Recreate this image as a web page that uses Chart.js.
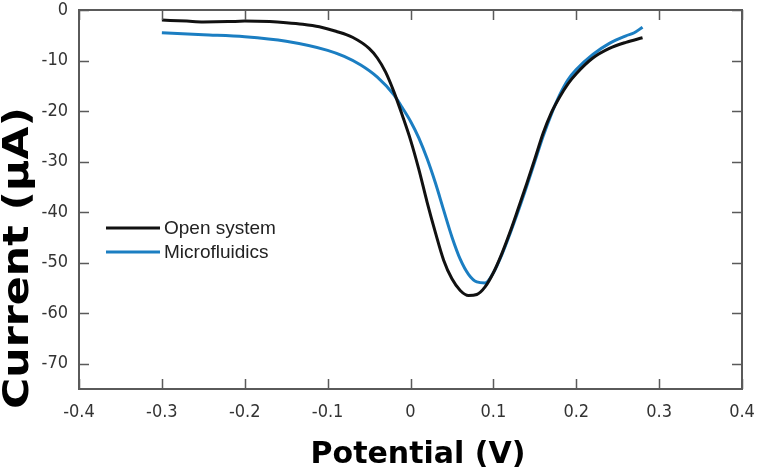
<!DOCTYPE html>
<html>
<head>
<meta charset="utf-8">
<script src="https://cdn.jsdelivr.net/npm/chart.js@4.4.1/dist/chart.umd.min.js"></script>
<style>
  html, body { margin: 0; padding: 0; background: #fff; }
  #chart { display: block; }
</style>
</head>
<body>
<canvas id="chart" width="760" height="476"></canvas>
<script>
// Square-wave voltammograms
const potentialOpen = [-0.30, -0.27, -0.25, -0.22, -0.20, -0.17, -0.15, -0.13, -0.11, -0.09,
  -0.07, -0.05, -0.04, -0.03, -0.02, -0.01, 0.00, 0.01, 0.02, 0.03, 0.04, 0.05, 0.06, 0.07,
  0.08, 0.09, 0.10, 0.11, 0.12, 0.13, 0.14, 0.15, 0.16, 0.17, 0.18, 0.19, 0.20, 0.22, 0.24,
  0.26, 0.28];
const currentOpen = [-2.0, -2.2, -2.35, -2.3, -2.2, -2.3, -2.5, -2.8, -3.3, -4.2,
  -5.4, -7.6, -9.5, -12.3, -16.2, -20.8, -25.7, -31.5, -38.0, -44.0, -49.5, -53.2, -55.5, -56.5,
  -56.3, -54.8, -52.0, -48.3, -44.0, -39.3, -34.5, -29.5, -24.4, -20.3, -17.2, -14.6, -12.6, -9.5, -7.6,
  -6.4, -5.5];

const potentialMicro = [-0.30, -0.25, -0.20, -0.15, -0.10, -0.08, -0.06, -0.04, -0.02, -0.01,
  0.00, 0.01, 0.02, 0.03, 0.04, 0.05, 0.06, 0.07, 0.08, 0.09, 0.10, 0.11, 0.12, 0.13, 0.14,
  0.15, 0.16, 0.17, 0.18, 0.19, 0.20, 0.22, 0.24, 0.26, 0.27, 0.28];
const currentMicro = [-4.5, -4.9, -5.3, -6.2, -8.0, -9.2, -10.9, -13.3, -16.8, -19.3,
  -22.0, -25.3, -29.4, -34.2, -39.6, -44.9, -49.3, -52.3, -53.8, -54.0, -52.0, -48.5, -44.3, -39.8, -35.0,
  -30.0, -25.0, -20.6, -16.8, -13.8, -11.8, -8.8, -6.6, -5.1, -4.5, -3.4];

const seriesNames = ['Open system', 'Microfluidics'];
const seriesColors = ['#111111', '#1b7ec2'];

const xTicks = [-0.4, -0.3, -0.2, -0.1, 0, 0.1, 0.2, 0.3, 0.4];
const yTicks = [0, -10, -20, -30, -40, -50, -60, -70];

const toPoints = (xs, ys) => xs.map((x, i) => ({ x, y: ys[i] }));

const AXIS_COLOR = '#5a5a5a';
const tickFont = { family: "'DejaVu Sans Condensed', 'DejaVu Sans', sans-serif", size: 18 };

// frame, inward ticks, axis titles and legend
const decor = {
  id: 'decor',
  afterDraw(chart) {
    const { ctx, chartArea: a, scales } = chart;
    ctx.save();
    ctx.strokeStyle = AXIS_COLOR;
    ctx.lineWidth = 2;
    ctx.strokeRect(a.left, a.top, a.right - a.left, a.bottom - a.top);

    ctx.lineWidth = 1.5;
    ctx.beginPath();
    scales.x.ticks.forEach(t => {
      const px = Math.round(scales.x.getPixelForValue(t.value)) + 0.5;
      ctx.moveTo(px, a.bottom); ctx.lineTo(px, a.bottom - 10);
      ctx.moveTo(px, a.top); ctx.lineTo(px, a.top + 10);
    });
    scales.y.ticks.forEach(t => {
      const py = Math.round(scales.y.getPixelForValue(t.value)) + 0.5;
      ctx.moveTo(a.left, py); ctx.lineTo(a.left + 10, py);
      ctx.moveTo(a.right, py); ctx.lineTo(a.right - 10, py);
    });
    ctx.stroke();

    // axis titles
    ctx.fillStyle = '#000';
    ctx.textAlign = 'center';
    ctx.textBaseline = 'middle';
    ctx.font = "bold 30px 'DejaVu Sans', sans-serif";
    ctx.fillText('Potential (V)', 418, 455);
    ctx.save();
    ctx.translate(19, 258);
    ctx.rotate(-Math.PI / 2);
    ctx.scale(1.22, 1);
    ctx.font = "bold 35px 'DejaVu Sans', sans-serif";
    ctx.fillText('Current (µA)', 0, 0);
    ctx.restore();

    // legend
    ctx.font = "19px 'Liberation Sans', Arial, sans-serif";
    ctx.textAlign = 'left';
    chart.data.datasets.forEach((ds, i) => {
      const y = 228 + i * 24;
      ctx.strokeStyle = ds.borderColor;
      ctx.lineWidth = 3;
      ctx.beginPath();
      ctx.moveTo(106, y); ctx.lineTo(160, y);
      ctx.stroke();
      ctx.fillStyle = '#222';
      ctx.fillText(ds.label, 164, y + 1);
    });
    ctx.restore();
  }
};

new Chart(document.getElementById('chart'), {
  type: 'line',
  data: {
    datasets: [
      { label: seriesNames[0], data: toPoints(potentialOpen, currentOpen) },
      { label: seriesNames[1], data: toPoints(potentialMicro, currentMicro) },
    ].map((ds, i) => ({
      ...ds,
      borderColor: seriesColors[i],
      borderWidth: 3,
      pointRadius: 0,
      fill: false,
      cubicInterpolationMode: 'monotone',
    })),
  },
  options: {
    responsive: false,
    animation: false,
    devicePixelRatio: 1,
    layout: { padding: { left: 0, right: 18, top: 10, bottom: 0 } },
    plugins: { legend: { display: false }, tooltip: { enabled: false } },
    scales: {
      x: {
        type: 'linear',
        min: -0.4,
        max: 0.4,
        afterBuildTicks: s => { s.ticks = xTicks.map(v => ({ value: v })); },
        afterFit: s => { s.height = 476 - 389; s.paddingLeft = 0; s.paddingRight = 0; },
        grid: { display: false, drawTicks: false },
        border: { display: false },
        ticks: {
          autoSkip: false,
          maxRotation: 0,
          padding: 13,
          color: '#333',
          font: tickFont,
          callback: v => String(Math.round(v * 10) / 10),
        },
      },
      y: {
        type: 'linear',
        min: -75,
        max: 0,
        afterBuildTicks: s => { s.ticks = yTicks.map(v => ({ value: v })); },
        afterFit: s => { s.width = 79; s.paddingTop = 0; s.paddingBottom = 0; },
        grid: { display: false, drawTicks: false },
        border: { display: false },
        ticks: {
          autoSkip: false,
          padding: 11,
          color: '#333',
          font: tickFont,
          callback: v => String(v),
        },
      },
    },
  },
  plugins: [decor],
});
</script>
</body>
</html>
